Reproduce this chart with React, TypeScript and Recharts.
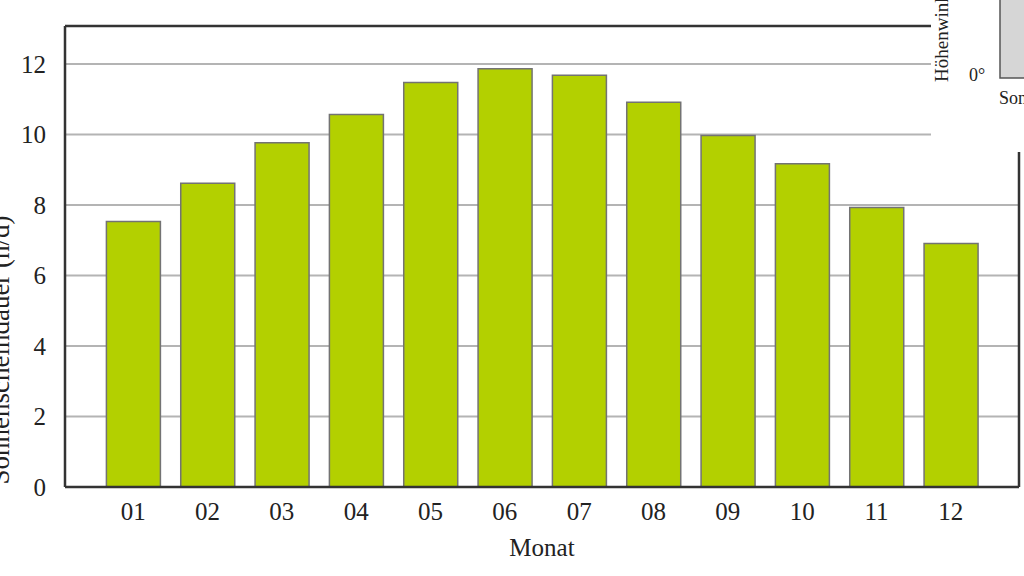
import { BarChart, Bar, XAxis, YAxis, CartesianGrid, Label } from 'recharts'

const months = ['01', '02', '03', '04', '05', '06', '07', '08', '09', '10', '11', '12']
const sunHours = [7.53, 8.62, 9.77, 10.57, 11.48, 11.87, 11.68, 10.92, 9.97, 9.17, 7.93, 6.91]
const yTicks = [0, 2, 4, 6, 8, 10, 12]

const data = months.map((month, i) => ({ month, hours: sunHours[i] }))

const FONT = '"Liberation Serif", "Times New Roman", serif'
const FRAME = { stroke: '#333', strokeWidth: 2.5 }

function YTitle() {
  return (
    <text
      transform="translate(9, 350) rotate(-90)"
      textAnchor="middle"
      fontFamily={FONT}
      fontSize={27}
      fill="#222"
    >
      Sonnenscheindauer (h/d)
    </text>
  )
}

export default function App() {
  return (
    <div style={{ position: 'absolute', left: 0, top: 0, width: 1024, height: 576, background: '#fff', fontFamily: FONT }}>
      <BarChart
        width={1024}
        height={576}
        data={data}
        margin={{ top: 26, right: 5, left: 0, bottom: 0 }}
        barCategoryGap="14%"
      >
        <CartesianGrid vertical={false} stroke="#b4b4b4" strokeWidth={2} />
        {/* top and right edges of the frame */}
        <CartesianGrid
          vertical={false}
          stroke={FRAME.stroke}
          strokeWidth={FRAME.strokeWidth}
          horizontalCoordinatesGenerator={(p: any) => [p.offset.top]}
        />
        <CartesianGrid
          horizontal={false}
          stroke={FRAME.stroke}
          strokeWidth={FRAME.strokeWidth}
          verticalCoordinatesGenerator={(p: any) => [p.offset.left + p.offset.width]}
        />
        <XAxis
          dataKey="month"
          height={89}
          axisLine={FRAME}
          tickLine={false}
          tickMargin={9}
          padding={{ left: 31, right: 31 }}
          tick={{ fontSize: 25, fill: '#222', fontFamily: FONT }}
        >
          <Label value="Monat" position="insideBottom" offset={20} style={{ fontSize: 25, fill: '#222', fontFamily: FONT }} />
        </XAxis>
        <YAxis
          width={65}
          domain={[0, 13.08]}
          ticks={yTicks}
          axisLine={FRAME}
          tickLine={false}
          tickMargin={13}
          tick={{ fontSize: 25, fill: '#222', fontFamily: FONT }}
          label={<YTitle />}
        />
        <Bar dataKey="hours" fill="#b3d000" stroke="#737373" strokeWidth={1.5} isAnimationActive={false} />
      </BarChart>

      {/* partly hidden inset in the top right corner */}
      <svg width={1024} height={576} style={{ position: 'absolute', left: 0, top: 0, pointerEvents: 'none' }}>
        <rect x={931} y={0} width={93} height={152} fill="#fff" />
        <text transform="translate(948, 82) rotate(-90)" fontFamily={FONT} fontSize={19} fill="#222">
          Höhenwinkel
        </text>
        <text x={969} y={81} fontFamily={FONT} fontSize={18} fill="#222">0°</text>
        <rect x={1000} y={-3} width={40} height={81} fill="#d6d6d6" stroke="#555" strokeWidth={1.5} />
        <text x={999} y={104} fontFamily={FONT} fontSize={18} fill="#222">Sonnenazimut</text>
      </svg>
    </div>
  )
}
